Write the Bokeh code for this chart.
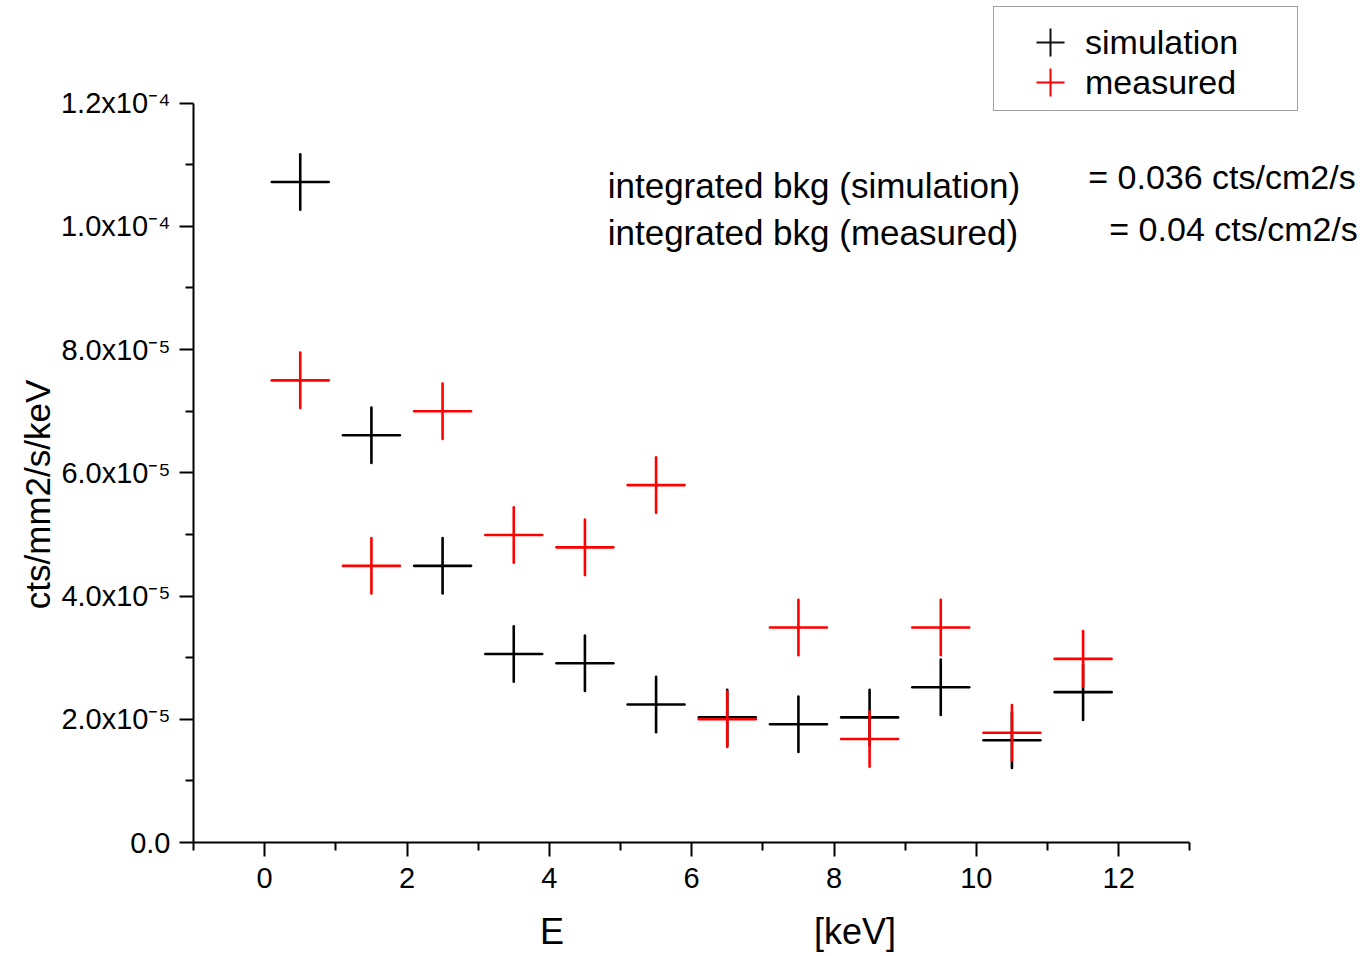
from bokeh.plotting import figure
from bokeh.models import (ColumnDataSource, FixedTicker, Label, Legend,
                          LegendItem, Range1d)
from bokeh.embed import file_html
from bokeh.resources import INLINE

# ---- data ----
energy = [0.5, 1.5, 2.5, 3.5, 4.5, 5.5, 6.5, 7.5, 8.5, 9.5, 10.5, 11.5]
energy_halfwidth = [0.4, 0.4, 0.4, 0.4, 0.4, 0.4, 0.4, 0.4, 0.4, 0.4, 0.4, 0.4]

simulation = [1.072e-4, 6.61e-5, 4.49e-5, 3.06e-5, 2.91e-5, 2.24e-5,
              2.03e-5, 1.92e-5, 2.03e-5, 2.52e-5, 1.66e-5, 2.44e-5]
simulation_err = [4.5e-6, 4.5e-6, 4.5e-6, 4.5e-6, 4.5e-6, 4.5e-6,
                  4.5e-6, 4.5e-6, 4.5e-6, 4.5e-6, 4.5e-6, 4.5e-6]

measured = [7.50e-5, 4.49e-5, 7.00e-5, 4.99e-5, 4.79e-5, 5.80e-5,
            2.00e-5, 3.49e-5, 1.68e-5, 3.49e-5, 1.78e-5, 2.98e-5]
measured_err = [4.5e-6, 4.5e-6, 4.5e-6, 4.5e-6, 4.5e-6, 4.5e-6,
                4.5e-6, 4.5e-6, 4.5e-6, 4.5e-6, 4.5e-6, 4.5e-6]

x_axis_bounds = (-1, 13)
x_ticks = [0, 2, 4, 6, 8, 10, 12]
x_minor_ticks = [-1, 1, 3, 5, 7, 9, 11, 13]
y_axis_bounds = (0.0, 1.2e-4)
y_ticks = [0.0, 2e-5, 4e-5, 6e-5, 8e-5, 1.0e-4, 1.2e-4]
y_tick_labels = ["0.0", "2.0x10\u207b\u2075", "4.0x10\u207b\u2075", "6.0x10\u207b\u2075",
                 "8.0x10\u207b\u2075", "1.0x10\u207b\u2074", "1.2x10\u207b\u2074"]
y_minor_ticks = [1e-5, 3e-5, 5e-5, 7e-5, 9e-5, 1.1e-4]

FONT = "Liberation Sans"
NBSP = "\u00a0"

# The frame is extended to the top/right canvas edges (invisible) so that the
# legend and the annotation texts, which sit outside the axes, are not clipped.
p = figure(width=1362, height=954, output_backend="svg", toolbar_location=None,
           x_range=Range1d(-1, 15.426), y_range=Range1d(0, 1.3665e-4),
           min_border_left=193, min_border_right=0,
           min_border_top=0, min_border_bottom=111)
p.outline_line_color = None
p.xgrid.visible = False
p.ygrid.visible = False
p.background_fill_color = "white"
p.border_fill_color = "white"

for ax in (p.xaxis[0], p.yaxis[0]):
    ax.axis_line_width = 2
    ax.axis_line_color = "black"
    ax.major_tick_line_width = 2
    ax.minor_tick_line_width = 2
    ax.major_tick_line_color = "black"
    ax.minor_tick_line_color = "black"
    ax.major_tick_in = 0
    ax.major_tick_out = 14
    ax.minor_tick_in = 0
    ax.minor_tick_out = 8
    ax.major_label_text_font = FONT
    ax.major_label_text_font_size = "29px"
    ax.major_label_text_color = "black"
    ax.axis_label_text_font = FONT
    ax.axis_label_text_font_style = "normal"
    ax.axis_label_text_color = "black"

xa = p.xaxis[0]
xa.bounds = x_axis_bounds
xa.ticker = FixedTicker(ticks=x_ticks, minor_ticks=x_minor_ticks)
xa.major_label_standoff = 11
# "E" and "[keV]" are spread apart as in the reference (non-breaking spaces)
xa.axis_label = "E" + NBSP * 25 + "[keV]" + NBSP * 12
xa.axis_label_text_font_size = "36px"
xa.axis_label_standoff = 20

ya = p.yaxis[0]
ya.bounds = y_axis_bounds
ya.ticker = FixedTicker(ticks=y_ticks, minor_ticks=y_minor_ticks)
ya.major_label_overrides = dict(zip(y_ticks, y_tick_labels))
ya.major_label_standoff = 9
ya.axis_label = "cts/mm2/s/keV" + NBSP * 15
ya.axis_label_text_font_size = "35px"
ya.axis_label_standoff = 1


def add_series(values, errs, color):
    src = ColumnDataSource(dict(
        x=energy,
        y=values,
        xl=[e - w for e, w in zip(energy, energy_halfwidth)],
        xr=[e + w for e, w in zip(energy, energy_halfwidth)],
        yl=[v - d for v, d in zip(values, errs)],
        yh=[v + d for v, d in zip(values, errs)],
    ))
    p.segment(x0="xl", x1="xr", y0="y", y1="y", source=src,
              line_color=color, line_width=2.6, line_cap="round")
    p.segment(x0="x", x1="x", y0="yl", y1="yh", source=src,
              line_color=color, line_width=2.6, line_cap="round")


add_series(simulation, simulation_err, "black")
add_series(measured, measured_err, "#ff0000")

# legend keys: zero-size cross markers at the data points (only the legend shows them)
sim_key = p.scatter(x=energy, y=simulation, marker="cross", size=0,
                    line_color="#111111", line_width=2)
meas_key = p.scatter(x=energy, y=measured, marker="cross", size=0,
                     line_color="#ff0000", line_width=2)

legend_common = dict(orientation="vertical", glyph_width=70, glyph_height=70,
                     label_standoff=0, margin=0, label_width=190,
                     label_text_font=FONT, label_text_font_size="34px",
                     label_text_color="black")
# boxed legend with the first entry
legend_a = Legend(items=[LegendItem(label="simulation", renderers=[sim_key])],
                  location=(800, 731),
                  padding=dict(left=21, right=22, top=0, bottom=33),
                  border_line_color="#444444", border_line_width=1.5,
                  background_fill_color="white", background_fill_alpha=1.0,
                  **legend_common)
# second entry drawn inside the same box
legend_b = Legend(items=[LegendItem(label="measured", renderers=[meas_key])],
                  location=(822, 725),
                  padding=dict(left=21, right=22, top=0, bottom=0),
                  border_line_color=None, background_fill_alpha=0.0,
                  **legend_common)
p.add_layout(legend_a)
p.add_layout(legend_b)

# annotations
p.add_layout(Label(x=4.82, y=10.665e-5, text="integrated bkg (simulation)",
                   text_align="left", text_baseline="alphabetic",
                   text_font=FONT, text_font_size="35px", text_color="black"))
p.add_layout(Label(x=4.82, y=9.903e-5, text="integrated bkg (measured)",
                   text_align="left", text_baseline="alphabetic",
                   text_font=FONT, text_font_size="35px", text_color="black"))
p.add_layout(Label(x=15.33, y=10.795e-5, text="= 0.036 cts/cm2/s",
                   text_align="right", text_baseline="alphabetic",
                   text_font=FONT, text_font_size="34px", text_color="black"))
p.add_layout(Label(x=15.36, y=9.952e-5, text="= 0.04 cts/cm2/s",
                   text_align="right", text_baseline="alphabetic",
                   text_font=FONT, text_font_size="34px", text_color="black"))

open("out.html", "w").write(file_html(p, INLINE))
